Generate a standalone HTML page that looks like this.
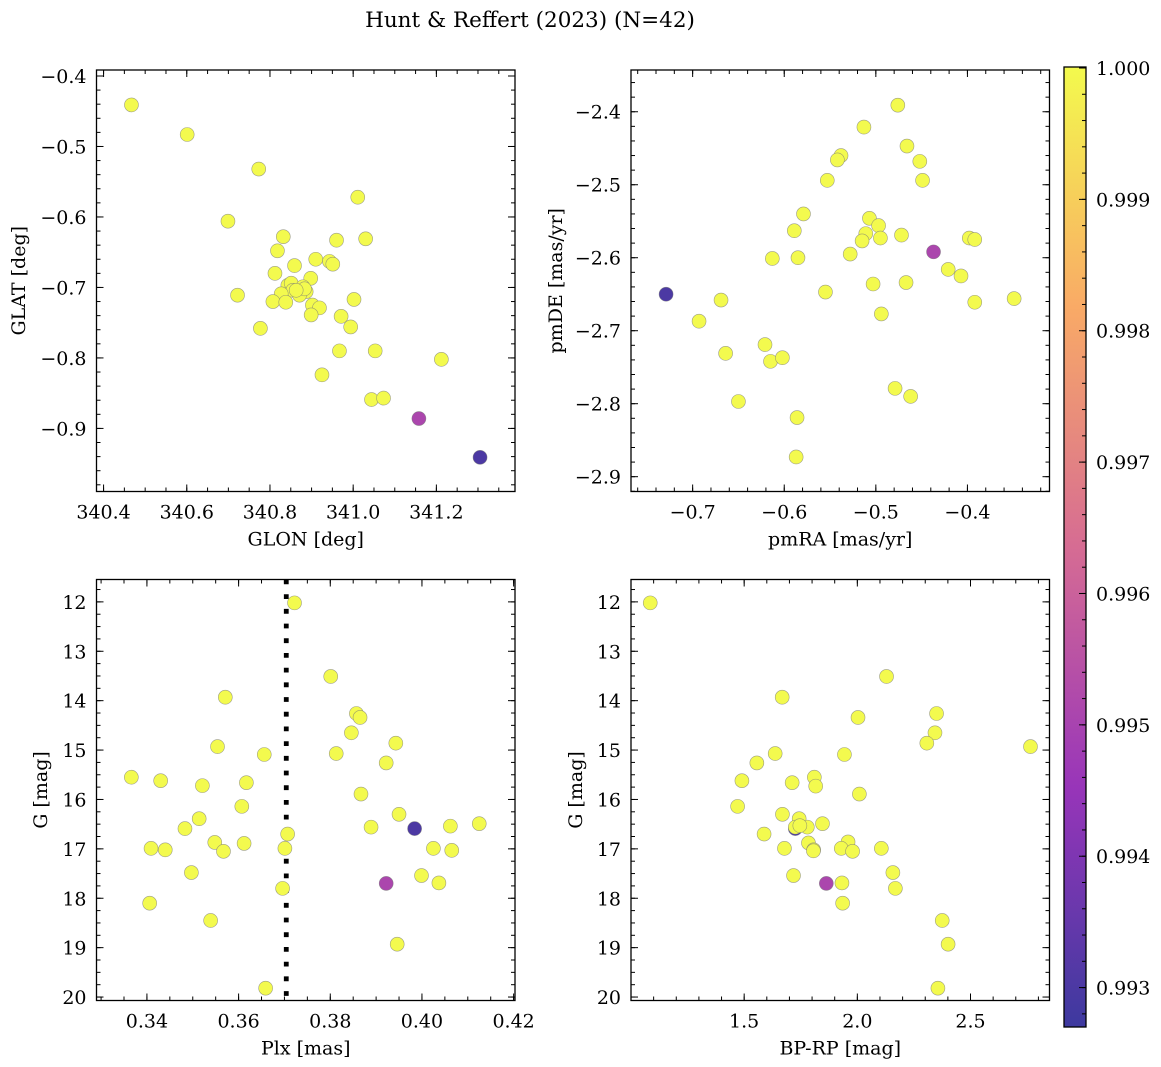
<!DOCTYPE html>
<html><head><meta charset="utf-8"><style>
html,body{margin:0;padding:0;background:#fff;}
svg{display:block;font-family:"DejaVu Serif","Liberation Serif",serif;}
</style></head><body>
<svg id="fig" width="1161" height="1067" viewBox="0 0 1161 1067" xmlns="http://www.w3.org/2000/svg">
<text x="530" y="27" font-size="21.5" text-anchor="middle">Hunt &amp; Reffert (2023) (N=42)</text>
</svg>
<script>
// membership probabilities (first two are the low-probability members)
const prob = [0.9951,0.9930].concat(Array(40).fill(1.0));
// Panel 1: GLON / GLAT
const glon = [341.158,341.305,340.467,340.601,340.773,340.699,341.011,340.832,340.818,340.960,341.030,340.859,340.910,340.943,340.951,340.812,340.898,340.722,340.843,340.851,340.855,340.879,340.887,340.871,340.827,340.807,340.838,340.902,340.919,340.899,341.002,340.971,340.994,340.777,340.967,341.053,341.212,340.925,341.044,341.073,340.883,340.863];
const glat = [-0.886,-0.941,-0.441,-0.483,-0.532,-0.606,-0.572,-0.628,-0.648,-0.633,-0.631,-0.669,-0.660,-0.663,-0.667,-0.680,-0.687,-0.711,-0.697,-0.694,-0.704,-0.699,-0.706,-0.711,-0.709,-0.720,-0.721,-0.725,-0.729,-0.739,-0.717,-0.741,-0.756,-0.758,-0.790,-0.790,-0.802,-0.824,-0.859,-0.857,-0.702,-0.704];
// Panel 2: pmRA / pmDE
const pmra = [-0.437,-0.729,-0.476,-0.513,-0.466,-0.538,-0.542,-0.452,-0.553,-0.449,-0.579,-0.507,-0.589,-0.497,-0.511,-0.495,-0.515,-0.472,-0.398,-0.392,-0.613,-0.585,-0.528,-0.421,-0.407,-0.555,-0.503,-0.467,-0.392,-0.349,-0.669,-0.693,-0.494,-0.664,-0.621,-0.615,-0.602,-0.479,-0.462,-0.650,-0.586,-0.587];
const pmde = [-2.592,-2.650,-2.391,-2.421,-2.447,-2.460,-2.466,-2.468,-2.494,-2.494,-2.540,-2.546,-2.563,-2.556,-2.567,-2.573,-2.577,-2.569,-2.573,-2.575,-2.601,-2.600,-2.595,-2.616,-2.625,-2.647,-2.636,-2.634,-2.661,-2.656,-2.658,-2.687,-2.677,-2.731,-2.719,-2.742,-2.737,-2.779,-2.790,-2.797,-2.819,-2.873];
// Panel 3: Plx / G
const plx = [0.3922,0.3984,0.3722,0.3801,0.3571,0.3857,0.3865,0.3846,0.3943,0.3554,0.3656,0.3813,0.3922,0.3366,0.3430,0.3521,0.3617,0.3867,0.3607,0.3950,0.3514,0.3483,0.3889,0.4062,0.4125,0.3707,0.3409,0.3440,0.3548,0.3567,0.3612,0.3701,0.4025,0.4065,0.3497,0.3999,0.4037,0.3696,0.3406,0.3539,0.3946,0.3659];
const gmag3 = [17.70,16.59,12.02,13.51,13.93,14.26,14.34,14.65,14.86,14.93,15.09,15.07,15.26,15.55,15.62,15.72,15.66,15.89,16.14,16.30,16.39,16.59,16.56,16.54,16.49,16.70,16.99,17.02,16.87,17.05,16.89,16.99,16.99,17.03,17.48,17.54,17.69,17.80,18.10,18.45,18.93,19.82];
// Panel 4: BP-RP / G
const bprp = [1.863,1.726,1.085,2.129,1.668,2.003,2.350,2.343,2.307,2.765,1.637,1.943,1.556,1.490,1.712,1.810,1.816,2.009,1.471,1.669,1.743,1.846,1.726,1.779,1.588,1.784,1.959,1.678,1.807,1.929,1.979,2.106,1.718,2.157,1.932,2.168,1.935,2.375,2.401,2.356,1.806,1.746];
const gmag4 = [17.70,16.59,12.02,13.51,13.93,14.34,14.26,14.65,14.86,14.93,15.07,15.09,15.26,15.62,15.66,15.55,15.73,15.89,16.14,16.30,16.39,16.49,16.56,16.56,16.70,16.88,16.86,16.99,17.02,16.99,17.05,16.99,17.54,17.48,17.69,17.80,18.10,18.45,18.93,19.82,17.04,16.53];
// tick values
const xticks1 = [340.4,340.6,340.8,341.0,341.2];
const yticks1 = [-0.9,-0.8,-0.7,-0.6,-0.5,-0.4];
const xticks2 = [-0.7,-0.6,-0.5,-0.4];
const yticks2 = [-2.9,-2.8,-2.7,-2.6,-2.5,-2.4];
const xticks3 = [0.34,0.36,0.38,0.40,0.42];
const gticks = [12,13,14,15,16,17,18,19,20];
const xticks4 = [1.5,2.0,2.5];
const cticks = [0.993,0.994,0.995,0.996,0.997,0.998,0.999,1.000];
const plxMean = [0.3704];

const NS = "http://www.w3.org/2000/svg";
const svg = document.getElementById('fig');
const FS = 19;
function mk(tag, attrs, parent){
  const e = document.createElementNS(NS, tag);
  for (const k in attrs) e.setAttribute(k, attrs[k]);
  (parent||svg).appendChild(e);
  return e;
}
const VMIN = 0.99270, VMAX = 1.0000076;
const stops = [[13,8,135],[126,3,168],[204,71,120],[248,149,64],[240,249,33]];
function plasma(t){
  t = Math.max(0, Math.min(1, t));
  const s = t*(stops.length-1), i = Math.min(Math.floor(s), stops.length-2), f = s-i;
  const c = stops[i].map((v,k)=>v+(stops[i+1][k]-v)*f);
  return c.map(v=>Math.round(v*0.8+255*0.2));
}
function rgb(c){return 'rgb('+c.join(',')+')';}
const fmtm = (v,d)=>(v<0?'\u2212':'')+Math.abs(v).toFixed(d);

function panel(cfg){
  const g = mk('g', {});
  
  
  const {x0,x1,y0,y1,xmin,xmax,ymin,ymax} = cfg;
  const sx = v => x0 + (v-xmin)/(xmax-xmin)*(x1-x0);
  const sy = cfg.invert ? (v => y0 + (v-ymin)/(ymax-ymin)*(y1-y0)) : (v => y1 - (v-ymin)/(ymax-ymin)*(y1-y0));
  const clip = mk('clipPath', {id:'clip-'+cfg.name}, g);
  mk('rect', {x:x0,y:y0,width:x1-x0,height:y1-y0}, clip);
  const marks = mk('g', {'clip-path':'url(#clip-'+cfg.name+')'}, g);
  
  
  if (cfg.vline){
    const vl = mk('line', {x1:sx(cfg.vline[0]),x2:sx(cfg.vline[0]),y1:y0,y2:y1,stroke:'#000','stroke-width':4.8,'stroke-dasharray':'4.8 9.9'}, marks);
    
    
  }
  for (let i=0;i<cfg.xs.length;i++){
    const c = mk('circle', {cx:sx(cfg.xs[i]), cy:sy(cfg.ys[i]), r:7, fill:rgb(plasma((prob[i]-VMIN)/(VMAX-VMIN))), stroke:'#777', 'stroke-width':0.6, 'stroke-opacity':0.7}, marks);
    
    
  }
  const tk = mk('g', {stroke:'#000','stroke-width':1}, g);
  const xr = [Math.min(xmin,xmax), Math.max(xmin,xmax)];
  for (let v = Math.ceil(xr[0]/cfg.xminor-1e-6)*cfg.xminor; v<=xr[1]+1e-9; v+=cfg.xminor){
    const X = sx(v);
    mk('line',{x1:X,x2:X,y1:y1,y2:y1-4},tk); mk('line',{x1:X,x2:X,y1:y0,y2:y0+4},tk);
  }
  const yr = [Math.min(ymin,ymax), Math.max(ymin,ymax)];
  for (let v = Math.ceil(yr[0]/cfg.yminor-1e-6)*cfg.yminor; v<=yr[1]+1e-9; v+=cfg.yminor){
    const Y = sy(v);
    mk('line',{x1:x0,x2:x0+4,y1:Y,y2:Y},tk); mk('line',{x1:x1,x2:x1-4,y1:Y,y2:Y},tk);
  }
  cfg.xticks.forEach(v=>{
    const X = sx(v);
    mk('line',{x1:X,x2:X,y1:y1,y2:y1-7},tk); mk('line',{x1:X,x2:X,y1:y0,y2:y0+7},tk);
    const t = mk('text',{x:X,y:y1+27,'font-size':FS,'text-anchor':'middle'},g);
    
    
    t.textContent = fmtm(v,cfg.xd);
  });
  cfg.yticks.forEach(v=>{
    const Y = sy(v);
    mk('line',{x1:x0,x2:x0+7,y1:Y,y2:Y},tk); mk('line',{x1:x1,x2:x1-7,y1:Y,y2:Y},tk);
    const t = mk('text',{x:x0-10,y:Y+7,'font-size':FS,'text-anchor':'end'},g);
    
    
    t.textContent = fmtm(v,cfg.yd);
  });
  mk('rect',{x:x0,y:y0,width:x1-x0,height:y1-y0,fill:'none',stroke:'#000','stroke-width':1.3},g);
  const xl = mk('text',{x:(x0+x1)/2,y:y1+54,'font-size':FS,'text-anchor':'middle'},g);
  
  
  xl.textContent = cfg.xlabel;
  const yx = cfg.ylx, yc = (y0+y1)/2;
  const yl = mk('text',{x:yx,y:yc,'font-size':FS,'text-anchor':'middle',transform:'rotate(-90 '+yx+' '+yc+')'},g);
  
  
  yl.textContent = cfg.ylabel;
}

panel({name:'glon-glat-panel',x0:96.5,x1:515,y0:70,y1:491.5,xmin:340.383,xmax:341.389,ymin:-0.9895,ymax:-0.3915,
  xs:glon,ys:glat,xticks:xticks1,yticks:yticks1,xminor:0.05,yminor:0.02,xd:1,yd:1,xlabel:'GLON [deg]',ylabel:'GLAT [deg]',ylx:25});
panel({name:'pm-panel',x0:631,x1:1049.5,y0:70,y1:491.5,xmin:-0.7673,xmax:-0.3104,ymin:-2.9203,ymax:-2.3428,
  xs:pmra,ys:pmde,xticks:xticks2,yticks:yticks2,xminor:0.02,yminor:0.02,xd:1,yd:1,xlabel:'pmRA [mas/yr]',ylabel:'pmDE [mas/yr]',ylx:562});
panel({name:'plx-g-panel',x0:96.5,x1:515,y0:579.5,y1:1000.5,xmin:0.3290,xmax:0.4203,ymin:11.547,ymax:20.07,invert:true,vline:plxMean,
  xs:plx,ys:gmag3,xticks:xticks3,yticks:gticks,xminor:0.005,yminor:0.25,xd:2,yd:0,xlabel:'Plx [mas]',ylabel:'G [mag]',ylx:47});
panel({name:'cmd-panel',x0:631,x1:1049.5,y0:579.5,y1:1000.5,xmin:1.0,xmax:2.849,ymin:11.547,ymax:20.07,invert:true,
  xs:bprp,ys:gmag4,xticks:xticks4,yticks:gticks,xminor:0.1,yminor:0.25,xd:1,yd:0,xlabel:'BP-RP [mag]',ylabel:'G [mag]',ylx:582});

(function(){
  const cx0=1064, cx1=1086, cy0=67, cy1=1027;
  const cb = mk('g',{});
  
  
  const defs = mk('defs',{},cb);
  const lg = mk('linearGradient',{id:'cbgrad',x1:0,y1:1,x2:0,y2:0},defs);
  for (let k=0;k<=20;k++){ mk('stop',{offset:(k/20),'stop-color':rgb(plasma(k/20))},lg); }
  mk('rect',{x:cx0,y:cy0,width:cx1-cx0,height:cy1-cy0,fill:'url(#cbgrad)'},cb);
  const sy = v => cy1 - (v-VMIN)/(VMAX-VMIN)*(cy1-cy0);
  const tk = mk('g',{stroke:'#000','stroke-width':1},cb);
  for (let v=0.9928; v<=VMAX; v+=0.0002){ const Y=sy(v); mk('line',{x1:cx1,x2:cx1-4,y1:Y,y2:Y},tk); }
  cticks.forEach(v=>{
    const Y = sy(v);
    mk('line',{x1:cx1,x2:cx1-7,y1:Y,y2:Y},tk);
    const t = mk('text',{x:cx1+10,y:Y+7,'font-size':FS},cb);
    
    
    t.textContent = v.toFixed(3);
  });
  mk('rect',{x:cx0,y:cy0,width:cx1-cx0,height:cy1-cy0,fill:'none',stroke:'#000','stroke-width':1.3},cb);
})();
</script>
</body></html>
